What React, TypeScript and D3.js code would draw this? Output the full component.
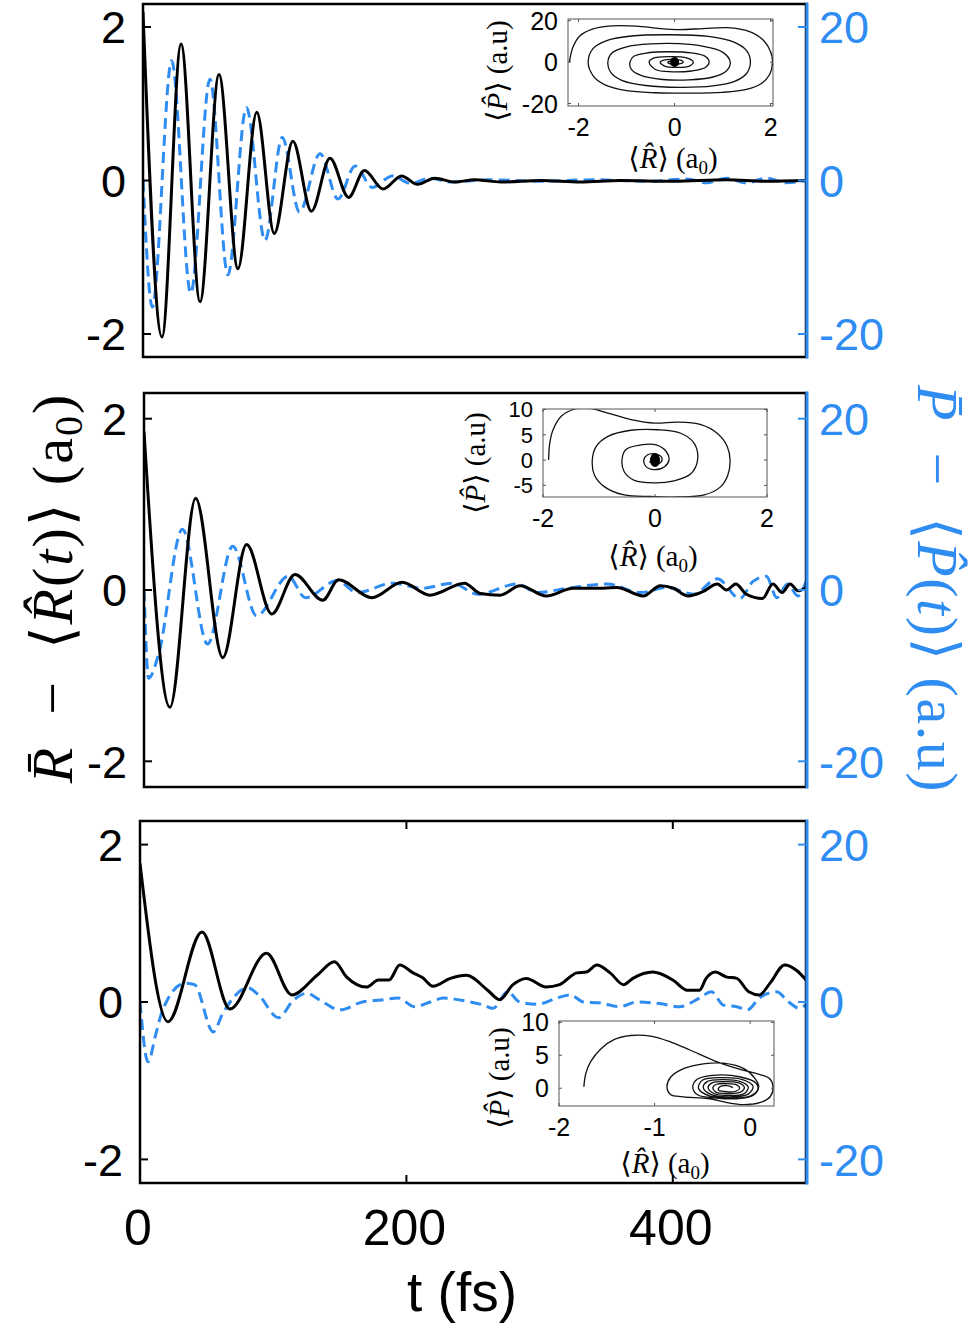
import * as d3 from "d3";

const BLUE = "#2f8df2";
const SANS = "'Liberation Sans', Arial, Helvetica, sans-serif";
const SERIF = "'Liberation Serif', 'DejaVu Serif', 'Times New Roman', serif";

// shared axes
const timeDomain = [0, 500];
const timeTicks = [0, 200, 400];
const rTicks = [-2, 0, 2];
const pTicks = [-20, 0, 20];

// panel 1 — R̄−<R(t)> (black, a0) and P̄−<P(t)> (blue, a.u), read at the turning points
const p1RTime = [0, 14.3, 28.7, 43, 57.3, 71.6, 85.8, 99, 113, 127, 141, 155, 167, 181, 195, 207, 220, 235, 250, 270, 300, 330, 360, 400, 440, 470, 500];
const p1RVal = [2.2, -2.04, 1.78, -1.58, 1.38, -1.15, 0.89, -0.69, 0.51, -0.4, 0.29, -0.22, 0.13, -0.11, 0.06, -0.05, 0.03, -0.02, 0.01, -0.02, 0, -0.02, 0, -0.01, 0.01, -0.01, 0];
const p1PTime = [0, 7, 21.6, 36, 50.5, 64, 78, 92, 105, 118, 133.5, 147, 160, 173, 188, 202, 216, 232, 260, 300, 340, 380, 410, 425, 440, 455, 470, 485, 500];
const p1PVal = [0, -16.5, 15.6, -14.7, 13.2, -12.3, 9.5, -7.8, 5.6, -4.1, 3.5, -2.4, 1.9, -0.9, 0.6, -0.4, 0.3, -0.2, 0.1, -0.1, 0.1, -0.1, 0.2, -0.3, 0.3, -0.3, 0.3, -0.3, 0];

// panel 2
const p2RTime = [0, 19.6, 39, 59.5, 77.5, 96.5, 114, 135, 147, 172, 195, 216, 242, 254, 269, 284, 304, 324, 347, 357, 377, 390, 400, 411, 422, 433, 440, 447, 455, 467, 475, 482, 488, 494, 500];
const p2RVal = [1.85, -1.37, 1.07, -0.79, 0.53, -0.28, 0.18, -0.12, 0.12, -0.09, 0.09, -0.06, 0.08, -0.04, -0.06, 0.05, -0.07, 0.02, 0.02, 0.03, -0.07, 0.05, 0.02, -0.07, -0.02, 0.07, 0, 0.07, -0.05, -0.1, 0.07, -0.03, 0.07, -0.01, 0.03];
const p2PTime = [0, 3.5, 11, 29, 48, 67, 85, 109, 122, 146, 161, 188, 210, 233, 252, 282, 297, 320, 350, 375, 395, 415, 433, 450, 460, 470, 478, 486, 494, 500];
const p2PVal = [0, -10.3, -7.5, 7.1, -6.3, 5.1, -3, 1.6, -0.9, 1.1, -0.3, 0.8, 0.2, 0.8, -0.5, 0.7, -0.3, 0.2, 0.7, -0.3, 0.3, -0.5, 1.3, -1, 1, 1.6, -0.9, 0.7, -0.7, 1];

// panel 3
const p3RTime = [0, 21, 46.5, 67.5, 95, 114, 133, 146, 155, 170, 179, 187, 195, 205, 212, 220, 233, 245, 261, 270, 280, 290, 305, 315, 328, 335, 343, 353, 363, 370, 385, 400, 411, 420, 425, 432, 440, 448, 457, 465, 473, 484, 493, 500];
const p3RVal = [1.76, -0.25, 0.89, -0.09, 0.62, 0.09, 0.34, 0.51, 0.32, 0.19, 0.28, 0.28, 0.47, 0.37, 0.31, 0.2, 0.3, 0.34, 0.15, 0.03, 0.22, 0.3, 0.19, 0.22, 0.37, 0.38, 0.47, 0.37, 0.22, 0.3, 0.38, 0.28, 0.15, 0.15, 0.3, 0.38, 0.32, 0.3, 0.13, 0.09, 0.24, 0.47, 0.4, 0.28];
const p3PTime = [0, 6, 12, 17, 34, 41, 55, 62, 81, 89, 104, 115, 125, 135, 150, 167, 181, 194, 206, 218, 228, 245, 258, 265, 276, 285, 298, 313, 323, 333, 345, 360, 373, 390, 405, 420, 429, 438, 448, 456, 465, 478, 487, 495, 500];
const p3PVal = [0, -7.6, -4, -1, 2.4, 2.2, -3.8, -1.5, 1.8, 0.9, -2, 0.2, 1.1, 0.25, -1, 0, 0.25, 0.5, -0.6, 0, 0.5, 0.1, -0.4, -0.8, 1.3, 0, -0.3, 0.5, 0.9, 0, -0.1, -0.6, 0, -0.2, -0.6, 0.5, 1.3, -0.4, -0.6, -1, 0.5, 1.3, 0, -0.8, -0.3];

// insets: phase-space trajectories (<R>, <P>)
const inset1Path: [number, number][] = [
  [-2.19, 0], [-2.12, 7], [-1.98, 12.5], [-1.7, 16], [-1.3, 17.5], [-0.8, 17.4], [-0.3, 16.2], [0.1, 15.7], [0.6, 16.2], [1.1, 16.6], [1.55, 14.8], [1.85, 10.5], [2.0, 5], [2.04, 0],
  [1.98, -6], [1.8, -10.5], [1.5, -13.2], [1.0, -14.6], [0.3, -15], [-0.4, -14.8], [-1.0, -13.8], [-1.45, -11], [-1.7, -6.5], [-1.8, 0],
  [-1.7, 6.5], [-1.4, 10.5], [-0.9, 12.6], [-0.1, 13.2], [0.7, 12.4], [1.25, 9.5], [1.5, 5.5], [1.58, 0],
  [1.5, -5.5], [1.25, -9.3], [0.8, -11.5], [0.1, -12.2], [-0.6, -11.3], [-1.1, -8.8], [-1.33, -5], [-1.39, 0],
  [-1.3, 4.5], [-1.0, 7.4], [-0.5, 8.8], [0.1, 8.9], [0.6, 7.6], [1.0, 4.8], [1.16, 0],
  [1.08, -4.3], [0.8, -7.2], [0.3, -8.6], [-0.25, -8.4], [-0.7, -6.4], [-0.9, -3.5], [-0.93, 0],
  [-0.85, 2.8], [-0.55, 4.5], [-0.1, 5.0], [0.35, 4.4], [0.65, 2.6], [0.72, 0],
  [0.65, -2.5], [0.35, -4.3], [-0.05, -4.7], [-0.4, -3.6], [-0.53, 0],
  [-0.45, 1.8], [-0.1, 2.6], [0.25, 2.0], [0.39, 0],
  [0.32, -1.8], [0.05, -2.6], [-0.22, -1.8], [-0.3, 0],
  [-0.22, 1.0], [0.0, 1.3], [0.14, 0.8], [0.18, 0],
  [0.12, -0.8], [-0.02, -1.0], [-0.13, -0.5], [-0.14, 0],
  [-0.08, 0.5], [0.05, 0.5], [0.08, 0],
];
const inset2Path: [number, number][] = [
  [-1.9, 0], [-1.88, 3.3], [-1.82, 6], [-1.67, 8.7], [-1.43, 10.1], [-1.2, 10.3], [-0.84, 9.3], [-0.43, 8], [0, 7.3], [0.4, 7.5], [0.82, 7], [1.11, 5.3], [1.29, 2.7], [1.34, 0],
  [1.3, -3], [1.17, -5.3], [0.88, -6.9], [0.4, -7.3], [-0.07, -7.2], [-0.55, -6.9], [-0.9, -5.3], [-1.08, -3], [-1.12, 0],
  [-1.05, 2.7], [-0.84, 4.7], [-0.43, 5.9], [0.05, 6], [0.46, 5.3], [0.7, 3.3], [0.76, 0],
  [0.64, -2.7], [0.34, -4.1], [-0.01, -4.5], [-0.37, -4], [-0.55, -2.3], [-0.59, 0],
  [-0.52, 2.1], [-0.25, 3], [0.02, 3], [0.2, 1.7], [0.25, 0],
  [0.17, -1.3], [-0.01, -1.9], [-0.16, -1.3], [-0.2, 0],
  [-0.14, 1.0], [0.02, 1.2], [0.12, 0.5], [0.1, -0.5], [-0.02, -0.8], [-0.1, -0.3],
];
const inset3Path: [number, number][] = [
  [-1.74, 0.2], [-1.72, 2.2], [-1.67, 4], [-1.56, 6], [-1.42, 7.4], [-1.25, 8], [-1.04, 7.9], [-0.83, 7], [-0.63, 5.8], [-0.38, 4.2], [-0.14, 3], [0.07, 2.2], [0.2, 1.5], [0.24, 0.2],
  [0.21, -1.3], [0.1, -2.2], [-0.07, -2.5], [-0.24, -2.2], [-0.42, -1.6], [-0.7, -1.3], [-0.83, -1.0], [-0.87, 0.2],
  [-0.83, 1.7], [-0.69, 3], [-0.49, 3.7], [-0.28, 3.8], [-0.07, 3], [0.05, 1.5], [0.09, 0.2],
  [0.03, -1.1], [-0.14, -1.6], [-0.35, -1.5], [-0.55, -1.0], [-0.6, 0.2],
  [-0.55, 1.4], [-0.35, 2.0], [-0.1, 1.7], [0.06, 0.8], [0.08, -0.2],
  [0.0, -1.2], [-0.2, -1.5], [-0.42, -1.2], [-0.54, 0.0],
  [-0.5, 1.2], [-0.3, 1.6], [-0.08, 1.3], [0.03, 0.3],
  [-0.02, -0.9], [-0.2, -1.3], [-0.4, -1.0], [-0.49, 0.1],
  [-0.45, 1.0], [-0.28, 1.3], [-0.1, 1.0], [-0.02, 0.2],
  [-0.06, -0.8], [-0.22, -1.1], [-0.38, -0.8], [-0.44, 0.1],
  [-0.4, 0.8], [-0.26, 1.0], [-0.12, 0.8], [-0.06, 0.1],
  [-0.1, -0.6], [-0.24, -0.8], [-0.36, -0.6], [-0.39, 0.1],
  [-0.35, 0.6], [-0.24, 0.7], [-0.14, 0.5], [-0.11, 0.0],
  [-0.16, -0.5], [-0.26, -0.5], [-0.33, -0.3], [-0.32, 0.2], [-0.24, 0.4], [-0.18, 0.1],
];

interface Box { left: number; right: number; top: number; bottom: number }

const panels = [
  { id: "p1", box: { left: 143, right: 806, top: 4, bottom: 357 }, rt: p1RTime, rv: p1RVal, pt: p1PTime, pv: p1PVal, timeTicks: false },
  { id: "p2", box: { left: 144, right: 806, top: 393, bottom: 787 }, rt: p2RTime, rv: p2RVal, pt: p2PTime, pv: p2PVal, timeTicks: false },
  { id: "p3", box: { left: 140, right: 806, top: 821, bottom: 1183 }, rt: p3RTime, rv: p3RVal, pt: p3PTime, pv: p3PVal, timeTicks: true },
];

const insets = [
  { id: "i1", box: { left: 568, right: 773, top: 19, bottom: 106 }, xd: [-2.22, 2.05], yd: [-21.2, 20.8], xt: [-2, 0, 2], yt: [-20, 0, 20], path: inset1Path, dot: [4.5, 5], xl: [673, 168], yl: [507, 71] },
  { id: "i2", box: { left: 543, right: 767, top: 409, bottom: 497 }, xd: [-2, 2], yd: [-7.3, 10.1], xt: [-2, 0, 2], yt: [-5, 0, 5, 10], path: inset2Path, dot: [5, 7], xl: [653, 566], yl: [485, 463] },
  { id: "i3", box: { left: 559, right: 774, top: 1021, bottom: 1106 }, xd: [-2, 0.25], yd: [-2.7, 10.2], xt: [-2, -1, 0], yt: [0, 5, 10], path: inset3Path, dot: null, xl: [665, 1173], yl: [509, 1078] },
];

function Panel({ cfg }: { cfg: typeof panels[number] }) {
  const box: Box = cfg.box;
  const x = d3.scaleLinear().domain(timeDomain).range([box.left, box.right]);
  const yR = d3.scaleLinear().domain([-2.3, 2.3]).range([box.bottom, box.top]);
  const yP = d3.scaleLinear().domain([-23, 23]).range([box.bottom, box.top]);
  const rLine = d3.line<number>().x((_, i) => x(cfg.rt[i])).y((d) => yR(d)).curve(d3.curveMonotoneX);
  const pLine = d3.line<number>().x((_, i) => x(cfg.pt[i])).y((d) => yP(d)).curve(d3.curveMonotoneX);
  return (
    <g>
      <clipPath id={cfg.id + "clip"}>
        <rect x={box.left} y={box.top} width={box.right - box.left} height={box.bottom - box.top} />
      </clipPath>
      <g clipPath={`url(#${cfg.id}clip)`}>
        <path d={pLine(cfg.pv) || ""} fill="none" stroke={BLUE} strokeWidth={3} strokeDasharray="11,6" />
        <path d={rLine(cfg.rv) || ""} fill="none" stroke="#000" strokeWidth={3} strokeLinejoin="round" />
      </g>
      <rect x={box.left} y={box.top} width={box.right - box.left} height={box.bottom - box.top} fill="none" stroke="#000" strokeWidth={2.5} />
      <line x1={box.right + 1} x2={box.right + 1} y1={box.top - 1.5} y2={box.bottom + 1.5} stroke={BLUE} strokeWidth={3} />
      {rTicks.map((v) => (
        <g key={"l" + v}>
          <line x1={box.left} x2={box.left + 8} y1={yR(v)} y2={yR(v)} stroke="#000" strokeWidth={2} />
          <text x={box.left - 17} y={yR(v)} dy="0.36em" textAnchor="end" fontFamily={SANS} fontSize={45}>{v}</text>
        </g>
      ))}
      {pTicks.map((v) => (
        <g key={"r" + v}>
          <line x1={box.right - 8} x2={box.right} y1={yP(v)} y2={yP(v)} stroke={BLUE} strokeWidth={2} />
          <text x={box.right + 13} y={yP(v)} dy="0.36em" textAnchor="start" fontFamily={SANS} fontSize={45} fill={BLUE}>{v}</text>
        </g>
      ))}
      {cfg.timeTicks && timeTicks.map((v) => (
        <g key={"t" + v}>
          <line x1={x(v)} x2={x(v)} y1={box.top} y2={box.top + 8} stroke="#000" strokeWidth={2} />
          <line x1={x(v)} x2={x(v)} y1={box.bottom} y2={box.bottom - 8} stroke="#000" strokeWidth={2} />
          <text x={x(v) - 2} y={1245} textAnchor="middle" fontFamily={SANS} fontSize={50}>{v}</text>
        </g>
      ))}
    </g>
  );
}

function Inset({ cfg }: { cfg: typeof insets[number] }) {
  const box: Box = cfg.box;
  const x = d3.scaleLinear().domain(cfg.xd).range([box.left, box.right]);
  const y = d3.scaleLinear().domain(cfg.yd).range([box.bottom, box.top]);
  const line = d3.line<[number, number]>().x((d) => x(d[0])).y((d) => y(d[1])).curve(d3.curveCatmullRom.alpha(0.5));
  return (
    <g>
      <clipPath id={cfg.id + "clip"}>
        <rect x={box.left} y={box.top} width={box.right - box.left} height={box.bottom - box.top} />
      </clipPath>
      <rect x={box.left} y={box.top} width={box.right - box.left} height={box.bottom - box.top} fill="#fff" />
      <g clipPath={`url(#${cfg.id}clip)`}>
        <path d={line(cfg.path) || ""} fill="none" stroke="#111" strokeWidth={1.3} />
        {cfg.dot && <ellipse cx={x(0)} cy={y(0)} rx={cfg.dot[0]} ry={cfg.dot[1]} fill="#000" />}
      </g>
      <rect x={box.left} y={box.top} width={box.right - box.left} height={box.bottom - box.top} fill="none" stroke="#555" strokeWidth={1} />
      {cfg.xt.map((v) => (
        <g key={"x" + v}>
          <line x1={x(v)} x2={x(v)} y1={box.bottom} y2={box.bottom - 3} stroke="#555" />
          <line x1={x(v)} x2={x(v)} y1={box.top} y2={box.top + 3} stroke="#555" />
          <text x={x(v)} y={box.bottom + 21} dy="0.36em" textAnchor="middle" fontFamily={SANS} fontSize={25}>{v}</text>
        </g>
      ))}
      {cfg.yt.map((v) => (
        <g key={"y" + v}>
          <line x1={box.left} x2={box.left + 3} y1={y(v)} y2={y(v)} stroke="#555" />
          <line x1={box.right} x2={box.right - 3} y1={y(v)} y2={y(v)} stroke="#555" />
          <text x={box.left - 10} y={y(v)} dy="0.36em" textAnchor="end" fontFamily={SANS} fontSize={cfg.yt.length > 3 ? 22 : 25}>{v}</text>
        </g>
      ))}
      <text x={cfg.xl[0]} y={cfg.xl[1]} textAnchor="middle" fontFamily={SERIF} fontSize={29}>
        {"⟨"}<tspan fontStyle="italic">{"R\u0302"}</tspan>{"⟩ (a"}<tspan fontSize={19} dy={6}>0</tspan><tspan dy={-6}>)</tspan>
      </text>
      <text transform={`translate(${cfg.yl[0]},${cfg.yl[1]}) rotate(-90)`} textAnchor="middle" fontFamily={SERIF} fontSize={29}>
        {"⟨"}<tspan fontStyle="italic">{"P\u0302"}</tspan>{"⟩ (a.u)"}
      </text>
    </g>
  );
}

export default function App() {
  return (
    <svg width={975} height={1327} style={{ position: "absolute", left: 0, top: 0, background: "#fff" }}>
      <rect width={975} height={1327} fill="#fff" />
      {panels.map((p) => <Panel key={p.id} cfg={p} />)}
      {insets.map((c) => <Inset key={c.id} cfg={c} />)}
      <text transform="translate(72,588) rotate(-90)" textAnchor="middle" fontFamily={SERIF} fontSize={58} letterSpacing={2}>
        <tspan fontStyle="italic">{"R\u0304"}</tspan>{"\u2002−\u2002⟨"}<tspan fontStyle="italic">{"R\u0302"}</tspan>{"("}<tspan fontStyle="italic">t</tspan>{")⟩ (a"}<tspan fontSize={40} dy={10}>0</tspan><tspan dy={-10}>)</tspan>
      </text>
      <text transform="translate(918,589) rotate(90)" textAnchor="middle" fontFamily={SERIF} fontSize={58} fill={BLUE} letterSpacing={1.5}>
        <tspan fontStyle="italic">{"P\u0304"}</tspan>{"\u2002−\u2002⟨"}<tspan fontStyle="italic">{"P\u0302"}</tspan>{"("}<tspan fontStyle="italic">t</tspan>{")⟩ (a.u)"}
      </text>
      <text x={462} y={1311} textAnchor="middle" fontFamily={SANS} fontSize={55}>t (fs)</text>
    </svg>
  );
}
